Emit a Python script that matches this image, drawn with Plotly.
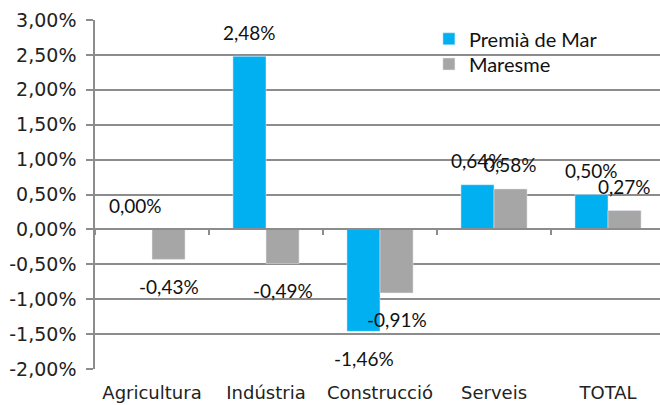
import plotly.graph_objects as go

# ------------------ Data ------------------
categories = ["Agricultura", "Indústria", "Construcció", "Serveis", "TOTAL"]
premia = [0.00, 2.48, -1.46, 0.64, 0.50]
maresme = [-0.43, -0.49, -0.91, 0.58, 0.27]
y_ticks = [-2.0, -1.5, -1.0, -0.5, 0.0, 0.5, 1.0, 1.5, 2.0, 2.5, 3.0]

BLUE = "#00B0F0"
GREY = "#A6A6A6"
GRID = "#8C8C8C"
TXT = "#222222"


def pct(v: float) -> str:
    return f"{v:.2f}%".replace(".", ",")


fig = go.Figure()
fig.add_trace(go.Bar(x=categories, y=premia, name="Premià de Mar", marker_color=BLUE, legend="legend"))
fig.add_trace(go.Bar(x=categories, y=maresme, name="Maresme", marker_color=GREY, legend="legend2"))

# data labels (Excel "outside end" style)
for vals, dx in [(premia, -16.5), (maresme, 16.5)]:
    for cat, v in zip(categories, vals):
        fig.add_annotation(
            x=cat, y=v, text=pct(v), showarrow=False,
            xshift=dx, yshift=24 if v >= 0 else -27,
            font=dict(family="Lato", size=19, color="#111111"),
        )

# small ticks on the zero line between categories
fig.add_trace(go.Bar(x=categories, y=[None] * 5, xaxis="x2", showlegend=False, hoverinfo="skip"))

leg = dict(xanchor="left", yanchor="middle", bgcolor="rgba(0,0,0,0)",
           font=dict(family="Lato", size=20, color="#111111"))

fig.update_layout(
    width=660, height=405,
    margin=dict(l=95, r=0, t=20, b=36),
    paper_bgcolor="white", plot_bgcolor="white",
    barmode="group", bargap=0.42, bargroupgap=0,
    font=dict(family="DejaVu Sans", size=18, color=TXT),
    showlegend=True,
    legend=dict(x=0.591, y=0.946, **leg),
    legend2=dict(x=0.591, y=0.874, **leg),
    xaxis=dict(
        range=[-0.5, 4.456], showgrid=False, showline=False, ticks="",
        ticklabelstandoff=11, zeroline=False,
    ),
    xaxis2=dict(
        overlaying="x", matches="x", anchor="free", position=0.4, side="bottom",
        showline=True, linecolor=GRID, linewidth=1.5,
        ticks="outside", tickson="boundaries", ticklen=5, tickcolor=GRID, tickwidth=1.5,
        showticklabels=False, showgrid=False, zeroline=False,
    ),
    yaxis=dict(
        range=[-2, 3], tickvals=y_ticks, ticktext=[pct(v) for v in y_ticks],
        tickfont=dict(size=19),
        showgrid=True, gridcolor=GRID, gridwidth=1.5,
        zeroline=False, showline=True, linecolor=GRID, linewidth=1.5,
        ticks="outside", ticklen=7, tickcolor=GRID, tickwidth=1.5,
        ticklabelstandoff=6,
    ),
)

fig.write_html("out.html", config={"displayModeBar": False},
               post_script="document.body.style.margin='0';")
